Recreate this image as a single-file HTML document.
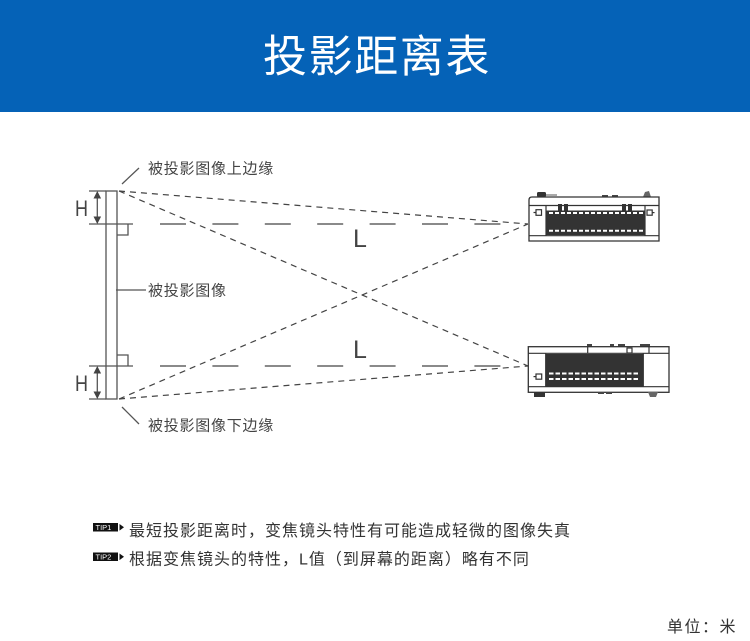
<!DOCTYPE html>
<html><head><meta charset="utf-8"><style>
html,body{margin:0;padding:0;background:#fff;}
body{width:750px;height:641px;overflow:hidden;}
svg{display:block;}
</style></head><body>
<svg width="750" height="641" viewBox="0 0 750 641" xmlns="http://www.w3.org/2000/svg">
<rect x="0" y="0" width="750" height="112" fill="#0562b7"/>
<text x="263" y="71.5" font-family="'Liberation Sans','Noto Sans CJK SC',sans-serif" font-size="44" letter-spacing="1.6" fill="#fff">投影距离表</text>

<g font-family="'Liberation Sans','Noto Sans CJK SC',sans-serif" fill="#444">
<text x="148" y="173.5" font-size="15" letter-spacing="0.75">被投影图像上边缘</text>
<text x="148" y="295.5" font-size="15" letter-spacing="0.75">被投影图像</text>
<text x="148" y="430.5" font-size="15" letter-spacing="0.75">被投影图像下边缘</text>
<text x="75" y="216" font-size="22" textLength="13" lengthAdjust="spacingAndGlyphs">H</text>
<text x="75" y="391" font-size="22" textLength="13" lengthAdjust="spacingAndGlyphs">H</text>
<text x="353" y="247" font-size="25">L</text>
<text x="353" y="358" font-size="25">L</text>
</g>

<!-- screen -->
<g stroke="#555" stroke-width="1.3" fill="none">
<rect x="106" y="191" width="11" height="208"/>
<line x1="89" y1="191" x2="106" y2="191"/>
<line x1="89" y1="224" x2="133" y2="224"/>
<line x1="89" y1="366" x2="133" y2="366"/>
<line x1="89" y1="399" x2="106" y2="399"/>
<polyline points="117,235 128,235 128,224"/>
<polyline points="117,355 128,355 128,366"/>
<line x1="97.3" y1="195" x2="97.3" y2="220"/>
<line x1="97.3" y1="370" x2="97.3" y2="395"/>
<line x1="122" y1="184" x2="139" y2="168"/>
<line x1="116" y1="290" x2="146" y2="290"/>
<line x1="122" y1="407" x2="139" y2="424"/>
</g>
<g fill="#444">
<polygon points="97.3,191 93.5,198.5 101.1,198.5"/>
<polygon points="97.3,224 93.5,216.5 101.1,216.5"/>
<polygon points="97.3,366 93.5,373.5 101.1,373.5"/>
<polygon points="97.3,399 93.5,391.5 101.1,391.5"/>
</g>

<!-- dashed horizontal long dashes -->
<g stroke="#444" stroke-width="1.3">
<line x1="160" y1="224" x2="502" y2="224" stroke-dasharray="26,26.4"/>
<line x1="160" y1="366" x2="502" y2="366" stroke-dasharray="26,26.4"/>
</g>
<!-- projection rays -->
<g stroke="#444" stroke-width="1.2" stroke-dasharray="6,5" fill="none">
<line x1="119" y1="191" x2="528" y2="224"/>
<line x1="119" y1="191" x2="528" y2="366"/>
<line x1="119" y1="399" x2="528" y2="224"/>
<line x1="119" y1="399" x2="528" y2="366"/>
</g>

<!-- top projector -->
<g>
<rect x="537" y="192" width="9" height="5" rx="1.5" fill="#333"/>
<line x1="546" y1="195" x2="557" y2="195" stroke="#555" stroke-width="1"/>
<rect x="602" y="195" width="6" height="2" fill="#444"/>
<rect x="612" y="195" width="6" height="2" fill="#444"/>
<path d="M643,197 L645,192 L649,191 L651,197 Z" fill="#666"/>
<path d="M529,241 L529,200 Q529,197 532,197 L659,197 L659,241 Z" fill="#fff" stroke="#333" stroke-width="1.3"/>
<line x1="529" y1="205.5" x2="659" y2="205.5" stroke="#333" stroke-width="1.2"/>
<line x1="529" y1="235.7" x2="659" y2="235.7" stroke="#333" stroke-width="1.2"/>
<line x1="546" y1="205.5" x2="546" y2="235.7" stroke="#333" stroke-width="1.2"/>
<line x1="645" y1="205.5" x2="645" y2="235.7" stroke="#333" stroke-width="1.2"/>
<rect x="546" y="210.5" width="99" height="24.5" fill="#333"/>
<rect x="558" y="204" width="4" height="7" fill="#333"/>
<rect x="564" y="204" width="4" height="7" fill="#333"/>
<rect x="622" y="204" width="4" height="7" fill="#333"/>
<rect x="628" y="204" width="4" height="7" fill="#333"/>
<line x1="549" y1="213" x2="643" y2="213" stroke="#fff" stroke-width="2" stroke-dasharray="4,2"/>
<line x1="549" y1="230.7" x2="643" y2="230.7" stroke="#fff" stroke-width="2" stroke-dasharray="4,2"/>
<rect x="536" y="209.7" width="5.5" height="5.6" fill="#fff" stroke="#333" stroke-width="1.2"/>
<line x1="533.5" y1="212.5" x2="536" y2="212.5" stroke="#333" stroke-width="1.2"/>
<rect x="647" y="210" width="5.2" height="5.2" fill="#fff" stroke="#333" stroke-width="1.2"/>
<line x1="652.2" y1="212.6" x2="654.5" y2="212.6" stroke="#333" stroke-width="1.2"/>
</g>

<!-- bottom projector -->
<g>
<rect x="587" y="344" width="5" height="2.7" fill="#444"/>
<rect x="610" y="344" width="4" height="2.7" fill="#444"/>
<rect x="618" y="344" width="7" height="2.7" fill="#444"/>
<rect x="640" y="344" width="10" height="2.7" fill="#444"/>
<rect x="528.3" y="346.7" width="140.7" height="45.6" fill="#fff" stroke="#333" stroke-width="1.3"/>
<line x1="528.3" y1="353.3" x2="669" y2="353.3" stroke="#333" stroke-width="1.2"/>
<line x1="587.7" y1="346.7" x2="587.7" y2="353.3" stroke="#333" stroke-width="1.2"/>
<line x1="649" y1="346.7" x2="649" y2="353.3" stroke="#333" stroke-width="1.2"/>
<rect x="627" y="348" width="5" height="5" fill="#fff" stroke="#333" stroke-width="1.2"/>
<line x1="545.7" y1="353.3" x2="545.7" y2="386.7" stroke="#333" stroke-width="1.2"/>
<line x1="643.3" y1="353.3" x2="643.3" y2="386.7" stroke="#333" stroke-width="1.2"/>
<rect x="546" y="354" width="97.3" height="32.7" fill="#333"/>
<line x1="528.3" y1="386.7" x2="669" y2="386.7" stroke="#333" stroke-width="1.2"/>
<line x1="549" y1="373.5" x2="639" y2="373.5" stroke="#fff" stroke-width="2" stroke-dasharray="4.5,2"/>
<line x1="549" y1="379" x2="639" y2="379" stroke="#fff" stroke-width="2" stroke-dasharray="4.5,2"/>
<rect x="536" y="374" width="5.7" height="5.2" fill="#fff" stroke="#333" stroke-width="1.2"/>
<line x1="533.5" y1="376.6" x2="536" y2="376.6" stroke="#333" stroke-width="1.2"/>
<rect x="534" y="392" width="11" height="5" fill="#333"/>
<rect x="598" y="392" width="6" height="2" fill="#444"/>
<rect x="606" y="392" width="6" height="2" fill="#444"/>
<path d="M648,392 L658,392 L656,397 L650,397 Z" fill="#666"/>
</g>

<!-- tips -->
<g font-family="'Liberation Sans',sans-serif">
<rect x="93" y="523" width="25" height="8.5" fill="#111"/>
<text x="95.5" y="530" font-size="7.5" fill="#fff">TIP1</text>
<polygon points="119.5,524 124,527.3 119.5,530.6" fill="#111"/>
<rect x="93" y="552.5" width="25" height="8.5" fill="#111"/>
<text x="95.5" y="559.5" font-size="7.5" fill="#fff">TIP2</text>
<polygon points="119.5,553.5 124,556.8 119.5,560.1" fill="#111"/>
</g>
<g font-family="'Liberation Sans','Noto Sans CJK SC',sans-serif" fill="#333" font-size="16" letter-spacing="1">
<text x="129" y="536">最短投影距离时，变焦镜头特性有可能造成轻微的图像失真</text>
<text x="129" y="564.5">根据变焦镜头的特性，L值（到屏幕的距离）略有不同</text>
<text x="667" y="632" letter-spacing="1.5">单位：米</text>
</g>
</svg>
</body></html>
